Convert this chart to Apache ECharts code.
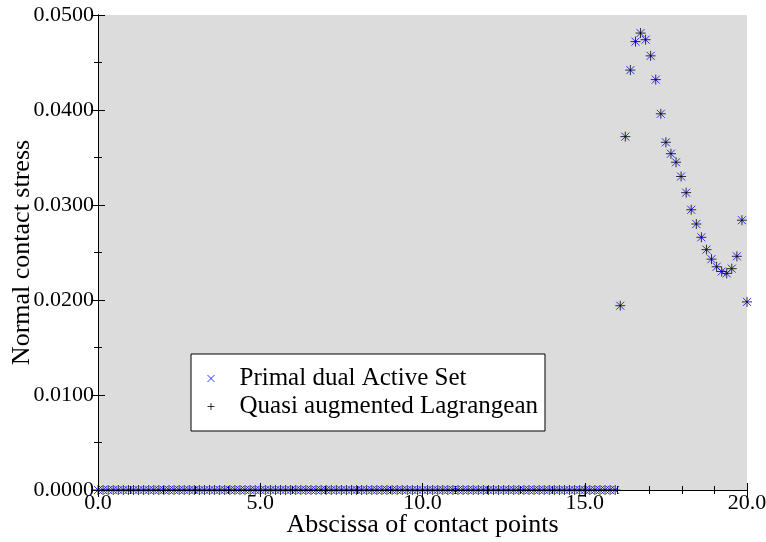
<!DOCTYPE html>
<html>
<head>
<meta charset="utf-8">
<script src="https://cdn.jsdelivr.net/npm/echarts@6/dist/echarts.min.js"></script>
<style>html,body{margin:0;padding:0;background:#fff;}#c{width:766px;height:542px;}</style>
</head>
<body>
<div id="c"></div>
<script>
// Abscissa of contact points (mesh nodes)
const abscissa = [
0,0.156,0.313,0.469,0.625,0.781,0.938,1.094,
1.25,1.406,1.563,1.719,1.875,2.031,2.188,2.344,
2.5,2.656,2.813,2.969,3.125,3.281,3.438,3.594,
3.75,3.906,4.063,4.219,4.375,4.531,4.688,4.844,
5,5.156,5.313,5.469,5.625,5.781,5.938,6.094,
6.25,6.406,6.563,6.719,6.875,7.031,7.188,7.344,
7.5,7.656,7.813,7.969,8.125,8.281,8.438,8.594,
8.75,8.906,9.063,9.219,9.375,9.531,9.688,9.844,
10,10.156,10.313,10.469,10.625,10.781,10.938,11.094,
11.25,11.406,11.563,11.719,11.875,12.031,12.188,12.344,
12.5,12.656,12.813,12.969,13.125,13.281,13.438,13.594,
13.75,13.906,14.063,14.219,14.375,14.531,14.688,14.844,
15,15.156,15.313,15.469,15.625,15.781,15.938,16.094,
16.25,16.406,16.563,16.719,16.875,17.031,17.188,17.344,
17.5,17.656,17.813,17.969,18.125,18.281,18.438,18.594,
18.75,18.906,19.063,19.219,19.375,19.531,19.688,19.844,
20];
// Normal contact stress, primal dual active set
const stressPDAS = [
0,0,0,0,0,0,0,0, 0,0,0,0,0,0,0,0, 0,0,0,0,0,0,0,0, 0,0,0,0,0,0,0,0,
0,0,0,0,0,0,0,0, 0,0,0,0,0,0,0,0, 0,0,0,0,0,0,0,0, 0,0,0,0,0,0,0,0,
0,0,0,0,0,0,0,0, 0,0,0,0,0,0,0,0, 0,0,0,0,0,0,0,0, 0,0,0,0,0,0,0,0,
0,0,0,0,0,0,0,0.0194,
0.0372,0.0442,0.0472,0.0481,0.0474,0.0457,0.0432,0.0396,
0.0366,0.0354,0.0345,0.0330,0.0313,0.0295,0.0280,0.0266,
0.0253,0.0243,0.0235,0.0230,0.0228,0.0233,0.0246,0.0284,
0.0198];
// Normal contact stress, quasi augmented Lagrangean
const stressQAL = [
0,0,0,0,0,0,0,0, 0,0,0,0,0,0,0,0, 0,0,0,0,0,0,0,0, 0,0,0,0,0,0,0,0,
0,0,0,0,0,0,0,0, 0,0,0,0,0,0,0,0, 0,0,0,0,0,0,0,0, 0,0,0,0,0,0,0,0,
0,0,0,0,0,0,0,0, 0,0,0,0,0,0,0,0, 0,0,0,0,0,0,0,0, 0,0,0,0,0,0,0,0,
0,0,0,0,0,0,0,0.0194,
0.0372,0.0442,0.0472,0.0481,0.0474,0.0457,0.0432,0.0396,
0.0366,0.0354,0.0345,0.0330,0.0313,0.0295,0.0280,0.0266,
0.0253,0.0243,0.0235,0.0230,0.0228,0.0233,0.0246,0.0284,
0.0198];
const seriesNames = ['Primal dual Active Set', 'Quasi augmented Lagrangean'];
const xTitle = 'Abscissa of contact points';
const yTitle = 'Normal contact stress';

const FONT = '"Liberation Serif", "DejaVu Serif", serif';
const crossPath = 'path://M0,0L10,10M10,0L0,10';
const plusPath = 'path://M5,0L5,10M0,5L10,5';

const chart = echarts.init(document.getElementById('c'), null, {renderer: 'canvas'});
const pair = (ys) => abscissa.map((x, i) => [x, ys[i]]);

const tickCommon = {
  axisLine: {show: true, lineStyle: {color: '#000', width: 1}},
  axisTick: {show: true, inside: true, length: 7, lineStyle: {color: '#000', width: 1}},
  splitLine: {show: false}
};
const xMinor = {minorTick: {show: true, splitNumber: 5, length: 4, lineStyle: {color: '#000'}}};
const yMinor = {minorTick: {show: true, splitNumber: 2, length: 4, lineStyle: {color: '#000'}}};

chart.setOption({
  animation: false,
  backgroundColor: '#fff',
  grid: {left: 98, right: 19, top: 15, bottom: 52, show: true, backgroundColor: '#dcdcdc', borderWidth: 0,
    containLabel: false, outerBoundsMode: 'none'},
  legend: {
    orient: 'vertical', left: 191, top: 354,
    backgroundColor: '#fff', borderColor: '#000', borderWidth: 1,
    padding: [12, 7, 12, 16], itemGap: 3, itemWidth: 7, itemHeight: 7,
    textStyle: {fontFamily: FONT, fontSize: 25, color: '#000', padding: [0, 0, 0, 20]},
    data: [
      {name: seriesNames[0], icon: crossPath, itemStyle: {color: 'rgba(0,0,0,0)', borderColor: '#0000ff', borderWidth: 1}},
      {name: seriesNames[1], icon: plusPath, itemStyle: {color: 'rgba(0,0,0,0)', borderColor: '#000', borderWidth: 1}}
    ]
  },
  xAxis: [
    Object.assign({type: 'value', position: 'bottom', min: 0, max: 20, interval: 5,
      axisLabel: {fontFamily: FONT, fontSize: 22, color: '#000', margin: 2, formatter: v => v.toFixed(1)},
      name: xTitle, nameLocation: 'middle', nameGap: 22, nameMoveOverlap: false,
      nameTextStyle: {fontFamily: FONT, fontSize: 26, color: '#000'}}, tickCommon, xMinor),
    Object.assign({type: 'value', position: 'top', min: 0, max: 20, interval: 5,
      axisLabel: {show: false}}, tickCommon, xMinor)
  ],
  yAxis: [
    Object.assign({type: 'value', position: 'left', min: 0, max: 0.05, interval: 0.01,
      axisLabel: {fontFamily: FONT, fontSize: 22, color: '#000', margin: 4, formatter: v => v.toFixed(4)},
      name: yTitle, nameLocation: 'middle', nameGap: 63, nameRotate: 90, nameMoveOverlap: false,
      nameTextStyle: {fontFamily: FONT, fontSize: 26, color: '#000'}}, tickCommon, yMinor),
    Object.assign({type: 'value', position: 'right', min: 0, max: 0.05, interval: 0.01,
      axisLabel: {show: false}}, tickCommon, yMinor)
  ],
  series: [
    {name: seriesNames[0], type: 'scatter', data: pair(stressPDAS), symbol: crossPath, symbolSize: 8,
      itemStyle: {color: 'rgba(0,0,0,0)', borderColor: '#0000ff', borderWidth: 1}, z: 3},
    {name: seriesNames[1], type: 'scatter', data: pair(stressQAL), symbol: plusPath, symbolSize: 10,
      itemStyle: {color: 'rgba(0,0,0,0)', borderColor: '#000', borderWidth: 1}, z: 4}
  ]
});
</script>
</body>
</html>
